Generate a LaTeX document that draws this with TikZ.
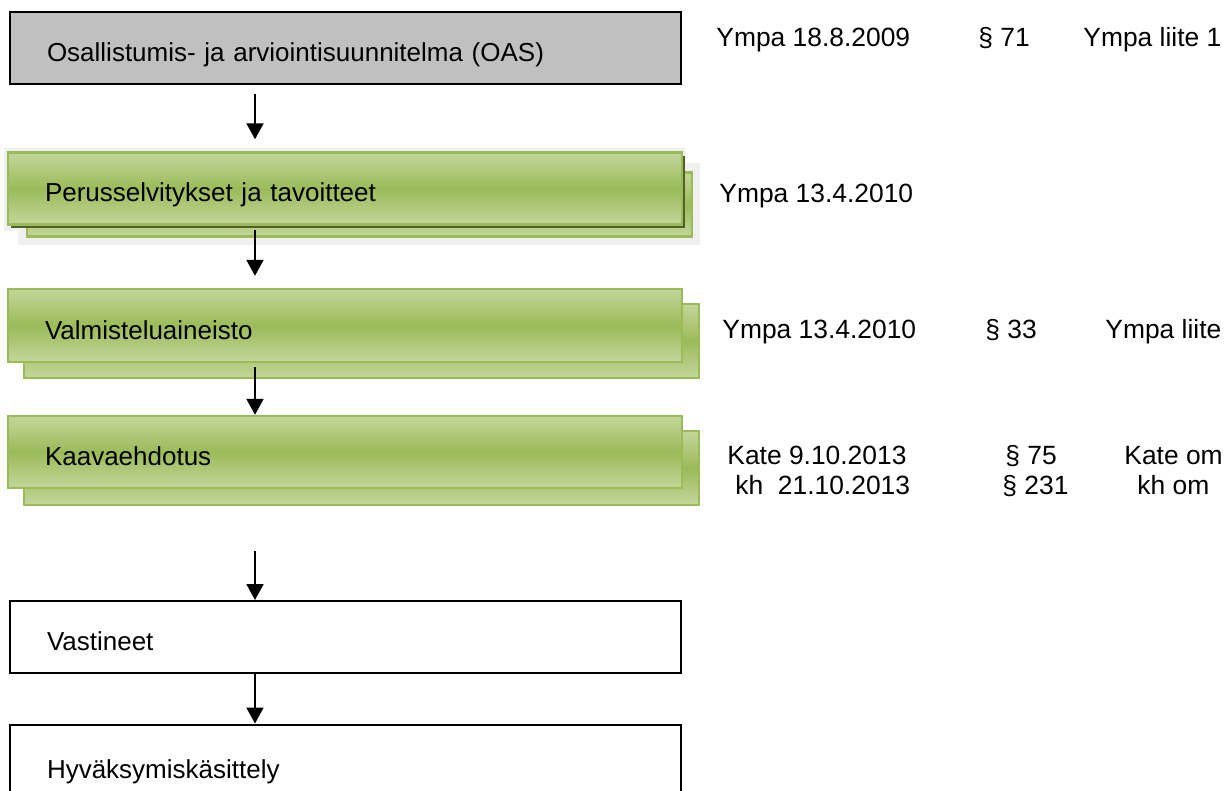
\documentclass[tikz,border=0pt]{standalone}
\usepackage{fontspec}
\setmainfont{Liberation Sans}
\usetikzlibrary{arrows.meta}
\definecolor{glight}{HTML}{C3D69B}
\definecolor{gmid}{HTML}{9BBB59}
\definecolor{gdark}{HTML}{4F6228}
\definecolor{gglow}{HTML}{F0F0F0}
\definecolor{oasgray}{HTML}{C0C0C0}
\begin{document}
\begin{tikzpicture}[x=0.5pt,y=-0.5pt,
  flowbox/.style={rectangle, inner xsep=18.5pt, inner ysep=0pt, minimum height=36pt,
    text height=13.5pt, text depth=0pt, align=left, line width=1pt,
    font=\fontsize{13}{15}\selectfont},
  plainbox/.style={flowbox, draw=black, fill=white, text width=298.5pt},
  graybox/.style={flowbox, draw=black, fill=oasgray, text width=298.5pt},
  greenbox/.style={flowbox, draw=gmid, line width=1.2pt, top color=glight, bottom color=glight, middle color=gmid, text width=300pt},
  backbox/.style={rectangle, draw=gmid, line width=1.2pt, top color=glight, bottom color=glight, middle color=gmid, inner sep=0pt},
  darkshadow/.style={rectangle, fill=gdark, inner sep=0pt},
  glow/.style={rectangle, fill=gglow, inner sep=0pt},
  note/.style={anchor=base west, inner sep=0pt, font=\fontsize{13.2}{15}\selectfont},
  flowarrow/.style={line width=1pt, -{Triangle[length=8pt,width=8.5pt]}}
]
\useasboundingbox (0,0) rectangle (1225,791);
\fill[white] (0,0) rectangle (1225,791);

% --- OAS
\node[graybox, minimum width=335.5pt] (oas) at (345.5,48) {Osallistumis- ja arviointisuunnitelma (OAS)};

% --- Perusselvitykset (with shadow)
\node[glow, minimum width=341pt, minimum height=41.5pt] (pglowA) at (345,189.5) {};
\node[glow, minimum width=341pt, minimum height=41pt] (pglowB) at (359,204) {};
\node[backbox, minimum width=332.5pt, minimum height=32pt] (pback) at (359.5,204.5) {};
\node[darkshadow, minimum width=337pt, minimum height=36pt] (pdark) at (347.5,192) {};
\node[greenbox, minimum width=337pt] (perus) at (345,188.5) {Perusselvitykset ja tavoitteet};

% --- Valmisteluaineisto
\node[backbox, minimum width=337.5pt, minimum height=37pt] (vback) at (361.5,341) {};
\node[greenbox, minimum width=337pt, minimum height=36.5pt] (valm) at (345,325.5) {Valmisteluaineisto};

% --- Kaavaehdotus
\node[backbox, minimum width=337.5pt, minimum height=37pt] (kback) at (361.5,468) {};
\node[greenbox, minimum width=337pt] (kaava) at (345,452) {Kaavaehdotus};

% --- Vastineet, Hyväksymiskäsittely
\node[plainbox, minimum width=335.5pt] (vast) at (345.5,637) {Vastineet};
\node[plainbox, minimum width=335.5pt, minimum height=40pt] (hyv) at (345.5,764.5) {Hyväksymiskäsittely};

% --- arrows
\draw[flowarrow, shorten <=4.5pt, shorten >=6pt] (oas.south -| 255,0) -- (perus.north -| 255,0);
\draw[flowarrow, shorten <=2pt, shorten >=6pt] (perus.south -| 255,0) -- (valm.north -| 255,0);
\draw[flowarrow, shorten <=2pt] (valm.south -| 255,0) -- (kaava.north -| 255,0);
\draw[flowarrow, shorten <=31pt] (kaava.south -| 255,0) -- (vast.north -| 255,0);
\draw[flowarrow] (vast.south -| 255,0) -- (hyv.north -| 255,0);

% --- notes
\node[note] (n1a) at (716,47) {Ympa 18.8.2009};
\node[note] (n1b) at (978,47) {§ 71};
\node[note] (n1c) at (1083,47) {Ympa liite 1};
\node[note] (n2a) at (719,203) {Ympa 13.4.2010};
\node[note] (n3a) at (722,338) {Ympa 13.4.2010};
\node[note] (n3b) at (985,338) {§ 33};
\node[note] (n3c) at (1105,338) {Ympa liite};
\node[note] (n4a) at (727,464) {Kate 9.10.2013};
\node[note] (n4b) at (1005,464) {§ 75};
\node[note] (n4c) at (1124,464) {Kate om};
\node[note] (n5a) at (735,494) {kh~ 21.10.2013};
\node[note] (n5b) at (1002,494) {§ 231};
\node[note] (n5c) at (1137,494) {kh om};
\end{tikzpicture}
\end{document}
